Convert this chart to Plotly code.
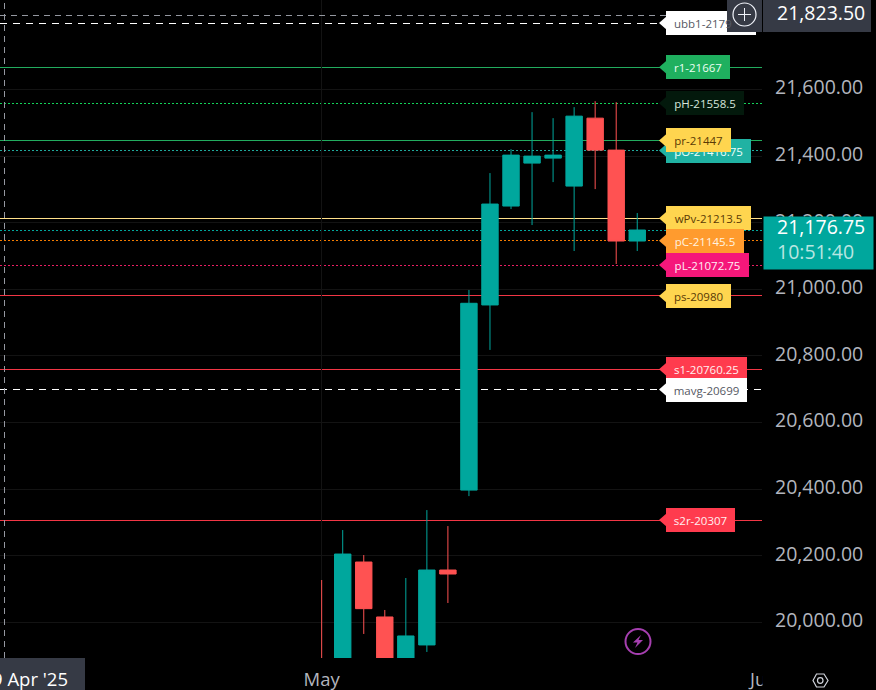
import plotly.graph_objects as go

# ---- data ----
dates = ["2025-05-01", "2025-05-02", "2025-05-05", "2025-05-06", "2025-05-07", "2025-05-08",
         "2025-05-09", "2025-05-12", "2025-05-13", "2025-05-14", "2025-05-15", "2025-05-16",
         "2025-05-19", "2025-05-20", "2025-05-21", "2025-05-22"]
opens = [19880, 19850, 20181, 20016, 19850, 19932, 20157, 20397, 20953, 21250, 21379, 21394, 21310, 21514, 21418, 21145]
highs = [20127, 20277, 20202, 20037, 20133, 20337, 20289, 20998, 21349, 21421, 21532, 21514, 21547, 21565, 21562, 21229]
lows = [19800, 19840, 19965, 19840, 19840, 19911, 20058, 20379, 20818, 21241, 21193, 21322, 21115, 21301, 21076, 21115]
closes = [19870, 20205, 20041, 19850, 19959, 20157, 20145, 20958, 21256, 21403, 21400, 21403, 21520, 21418, 21145, 21178]

y_ticks = [20000, 20200, 20400, 20600, 20800, 21000, 21200, 21400, 21600]
y_labels = ["20,000.00", "20,200.00", "20,400.00", "20,600.00", "20,800.00", "21,000.00", "21,200.00", "21,400.00", "21,600.00"]

level_names = ["ubb1-2179", "r1-21667", "pH-21558.5", "pO-21416.75", "pr-21447", "wPv-21213.5",
               "pC-21145.5", "pL-21072.75", "ps-20980", "s1-20760.25", "mavg-20699", "s2r-20307"]
level_values = [21799.5, 21667, 21558.5, 21416.75, 21447, 21213.5, 21145.5, 21072.75, 20980, 20760.25, 20699, 20307]
last_price = 21176.75
cross_price = 21823.5

# ---- styles ----
GREEN = "#00a79d"
RED = "#ff5252"
AXIS = "#b2b5be"
PANEL = "#363a45"
DOT = "2px,2px"
level_line = ["#ffffff", "#22ab5e", "#12d35a", "#1fa99c", "#22ab5e", "#ffe08a", "#f57c00", "#e91e63",
              "#f23645", "#f23645", "#ffffff", "#f23645"]
level_dash = ["7px,6px", "solid", DOT, DOT, "solid", "solid", DOT, DOT, "solid", "solid", "7px,6px", "solid"]
level_fill = ["#ffffff", "#1fb05f", "#03190c", "#20b2a3", "#ffd54f", "#ffd54f", "#ff9b2e", "#f5177a",
              "#ffd54f", "#ff3b4e", "#ffffff", "#ff3b4e"]
level_text = ["#555863", "#eafff2", "#d8e6dc", "#eafffb", "#5a3a05", "#5a3a05", "#fff3e0", "#ffeef5",
              "#5a3a05", "#fff0f0", "#555863", "#fff0f0"]
level_right = [756, 730, 744, 751, 731, 751, 744, 749, 731, 747, 747, 735]

W, H = 876, 690
PLOT_R, PLOT_B = 762, 658
FONT = "Open Sans"


def px(x):
    return x / W


def py(y):
    return 1 - y / H


def rect(x0, y0, x1, y1, fill):
    return dict(type="rect", xref="paper", yref="paper", x0=px(x0), x1=px(x1), y0=py(y0), y1=py(y1),
                fillcolor=fill, line_width=0, layer="above")


def path(points, **kw):
    d = "M " + " L ".join(f"{px(a):.5f},{py(b):.5f}" for a, b in points) + " Z"
    return dict(type="path", xref="paper", yref="paper", path=d, layer="above", **kw)


shapes = []
annotations = []

# level lines, below the candles
for v, c, d in zip(level_values, level_line, level_dash):
    shapes.append(dict(type="line", xref="paper", yref="y", x0=0, x1=px(PLOT_R), y0=v, y1=v,
                       line=dict(color=c, width=1, dash=d), layer="below"))
shapes.append(dict(type="line", xref="paper", yref="y", x0=0, x1=px(PLOT_R), y0=last_price, y1=last_price,
                   line=dict(color=GREEN, width=1, dash=DOT), layer="below"))

# crosshair
shapes.append(dict(type="line", xref="paper", yref="y", x0=0, x1=px(PLOT_R), y0=cross_price, y1=cross_price,
                   line=dict(color="#9598a1", width=1, dash="6px,5px"), layer="above"))
shapes.append(dict(type="line", xref="paper", yref="paper", x0=px(4.5), x1=px(4.5), y0=py(PLOT_B), y1=1,
                   line=dict(color="#9598a1", width=1, dash="6px,5px"), layer="above"))

# price labels with their pointers
for name, v, fill, tc, r in zip(level_names, level_values, level_fill, level_text, level_right):
    shapes.append(dict(type="path", xref="paper", yref="y", xsizemode="pixel", ysizemode="pixel",
                       xanchor=px(666), yanchor=v, path="M 1,-7 L -7,0 L 1,7 Z",
                       fillcolor=fill, line_width=0, layer="above"))
    if name.startswith("ubb1"):
        # this label runs under the corner widget, so its box is a shape and its text is only the visible part
        shapes.append(dict(type="path", xref="paper", yref="y", xsizemode="pixel", ysizemode="pixel",
                           xanchor=px(666), yanchor=v,
                           path=f"M 0,-12 L {r - 666},-12 L {r - 666},12 L 0,12 Z",
                           fillcolor=fill, line_width=0, layer="above"))
        annotations.append(dict(xref="paper", yref="y", x=px(672), y=v, xanchor="left", yanchor="middle",
                                text=name, showarrow=False, font=dict(family=FONT, size=11.5, color=tc)))
    else:
        annotations.append(dict(xref="paper", yref="y", x=px(666), y=v, xanchor="left", yanchor="middle",
                                text=name, showarrow=False, width=r - 666, height=24, align="center",
                                bgcolor=fill, borderpad=0, borderwidth=0,
                                font=dict(family=FONT, size=11.5, color=tc)))

# top-right corner widgets
shapes.append(rect(727, 0, 762, 32, PANEL))
shapes.append(dict(type="circle", xref="paper", yref="paper", x0=px(733), x1=px(756), y0=py(26), y1=py(3),
                   line=dict(color="#f0f3fa", width=1.2), layer="above"))
shapes.append(dict(type="line", xref="paper", yref="paper", x0=px(738), x1=px(751), y0=py(14.5), y1=py(14.5),
                   line=dict(color="#f0f3fa", width=1.2), layer="above"))
shapes.append(dict(type="line", xref="paper", yref="paper", x0=px(744.5), x1=px(744.5), y0=py(8), y1=py(21),
                   line=dict(color="#f0f3fa", width=1.2), layer="above"))
shapes.append(rect(763, 0, 871, 32, PANEL))
annotations.append(dict(xref="paper", yref="paper", x=px(775), y=py(12.5), xanchor="left", yanchor="middle",
                        text="21,823.50", showarrow=False, font=dict(family=FONT, size=19.5, color="#ffffff")))

# last price tag
annotations.append(dict(xref="paper", yref="paper", x=px(763), y=py(216), xanchor="left", yanchor="top",
                        text="", showarrow=False, width=109, height=52, bgcolor=GREEN, borderpad=0))
annotations.append(dict(xref="paper", yref="paper", x=px(775), y=py(227), xanchor="left", yanchor="middle",
                        text="21,176.75", showarrow=False, font=dict(family=FONT, size=19.5, color="#ffffff")))
annotations.append(dict(xref="paper", yref="paper", x=px(775), y=py(251.5), xanchor="left", yanchor="middle",
                        text="10:51:40", showarrow=False, font=dict(family=FONT, size=19.5, color="#b8e6e1")))

# bottom bar
shapes.append(rect(0, PLOT_B, 85, H, PANEL))
annotations.append(dict(xref="paper", yref="paper", x=px(70), y=py(678), xanchor="right", yanchor="middle",
                        text="9 Apr '25", showarrow=False, font=dict(family=FONT, size=18.5, color="#ffffff")))
annotations.append(dict(xref="paper", yref="paper", x=px(746), y=py(678), xanchor="left", yanchor="middle",
                        text="Ju", showarrow=False, font=dict(family=FONT, size=18.5, color=AXIS)))
annotations.append(dict(xref="paper", yref="paper", x=px(762), y=py(666), xanchor="left", yanchor="top",
                        text="", showarrow=False, width=14, height=24, bgcolor="#000000", borderpad=0))

# lightning badge
shapes.append(dict(type="circle", xref="paper", yref="paper", x0=px(625.5), x1=px(650.5), y0=py(654), y1=py(629),
                   line=dict(color="#a63fb0", width=2), layer="above"))
shapes.append(path([(641, 635), (633, 642.5), (637.5, 642.5), (635, 648), (643, 640), (638.5, 640)],
                   fillcolor="#a63fb0", line_width=0))

# settings hexagon
shapes.append(path([(813, 680.5), (816.5, 674), (824, 674), (828, 680.5), (824, 687), (816.5, 687)],
                   line=dict(color="#d1d4dc", width=1.2)))
shapes.append(dict(type="circle", xref="paper", yref="paper", x0=px(817.5), x1=px(823), y0=py(683.3), y1=py(677.7),
                   line=dict(color="#d1d4dc", width=1.2), layer="above"))

fig = go.Figure(go.Candlestick(
    x=dates, open=opens, high=highs, low=lows, close=closes, whiskerwidth=0,
    increasing=dict(line=dict(color=GREEN, width=1), fillcolor=GREEN),
    decreasing=dict(line=dict(color=RED, width=1), fillcolor=RED),
    showlegend=False,
))

fig.update_layout(
    width=W, height=H, margin=dict(l=0, r=0, t=0, b=0), autosize=False,
    paper_bgcolor="#000000", plot_bgcolor="#000000", boxgap=0.22, boxgroupgap=0,
    shapes=shapes, annotations=annotations, showlegend=False,
    xaxis=dict(type="category", categoryorder="array", categoryarray=dates, domain=[0, PLOT_R / W],
               range=[-15.29, 20.93], rangeslider=dict(visible=False), tickmode="array",
               tickvals=[dates[0]], ticktext=["May"], showgrid=True, gridcolor="#131313", gridwidth=1,
               showline=False, zeroline=False, ticks="", ticklabelstandoff=8, automargin=False,
               tickfont=dict(family=FONT, size=18.5, color=AXIS)),
    yaxis=dict(side="right", domain=[1 - PLOT_B / H, 1], range=[19892.8, 21868.8], tickmode="array",
               tickvals=y_ticks, ticktext=y_labels, showgrid=True, gridcolor="#131313", gridwidth=1,
               showline=False, zeroline=False, ticks="", ticklabelstandoff=12, ticklabelshift=-2, automargin=False,
               tickfont=dict(family=FONT, size=19.5, color=AXIS)),
)

# Straight level and crosshair lines are drawn sharp on the pixel grid, as in the reference.
SHARPEN = """
document.body.style.margin='0';
document.body.style.background='#000';
document.querySelectorAll('.shapelayer path').forEach(function(p){
  var m=(p.getAttribute('d')||'').match(/^M([-\\d.]+),([-\\d.]+)L([-\\d.]+),([-\\d.]+)$/);
  if(m && (m[1]===m[3] || m[2]===m[4])){p.style.shapeRendering='crispEdges';}
});
"""
fig.write_html("out.html", config=dict(displayModeBar=False), post_script=SHARPEN)
